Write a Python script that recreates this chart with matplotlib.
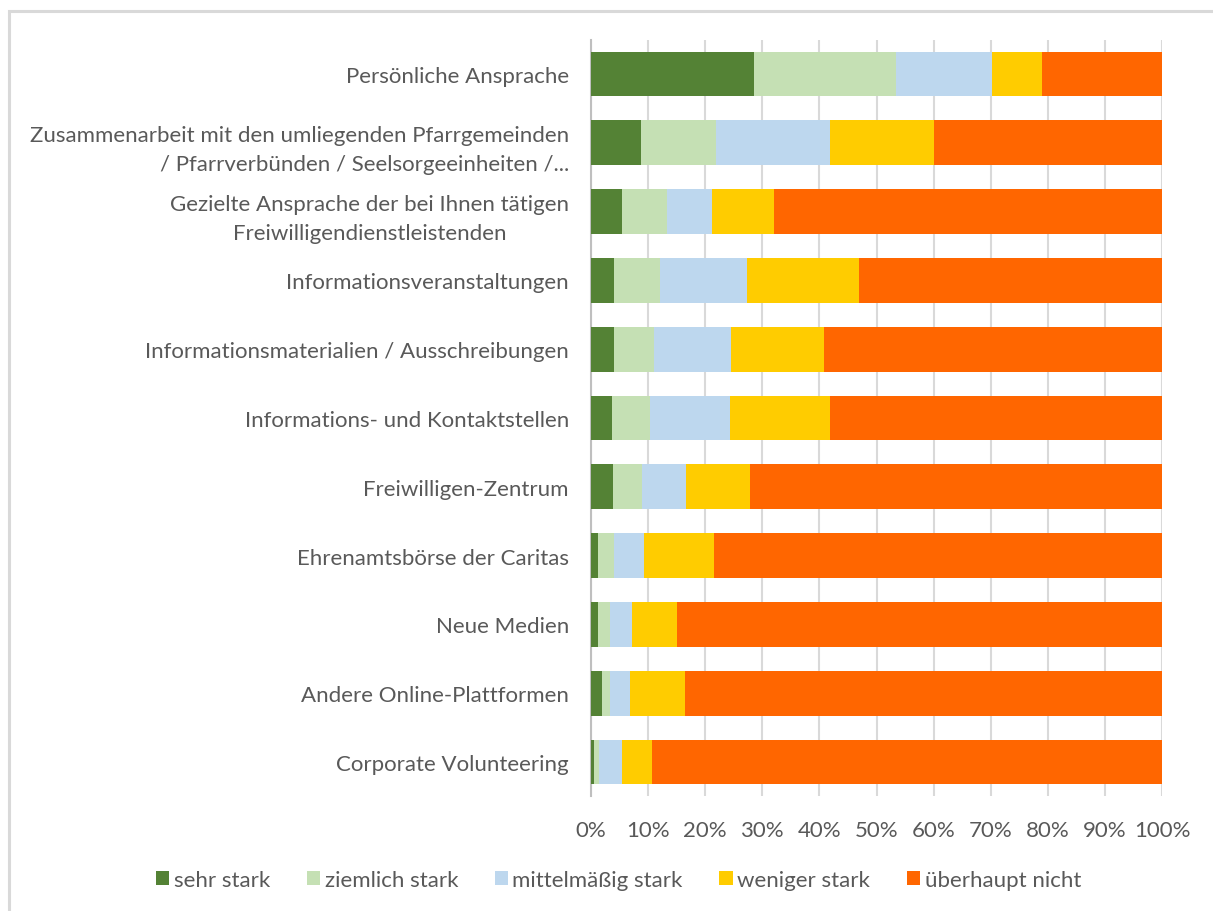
import matplotlib
matplotlib.use("Agg")
import matplotlib.pyplot as plt
import numpy as np
from matplotlib.patches import Rectangle

categories = [
    "Persönliche Ansprache",
    "Zusammenarbeit mit den umliegenden Pfarrgemeinden\n/ Pfarrverbünden / Seelsorgeeinheiten /...",
    "Gezielte Ansprache der bei Ihnen tätigen\nFreiwilligendienstleistenden",
    "Informationsveranstaltungen",
    "Informationsmaterialien / Ausschreibungen",
    "Informations- und Kontaktstellen",
    "Freiwilligen-Zentrum",
    "Ehrenamtsbörse der Caritas",
    "Neue Medien",
    "Andere Online-Plattformen",
    "Corporate Volunteering",
]
series_names = ["sehr stark", "ziemlich stark", "mittelmäßig stark", "weniger stark", "überhaupt nicht"]
sehr_stark = [28.6, 8.8, 5.4, 4.1, 4.1, 3.7, 3.9, 1.2, 1.2, 1.9, 0.5]
ziemlich_stark = [24.9, 13.1, 7.9, 7.9, 6.9, 6.7, 5.0, 2.9, 2.2, 1.5, 0.9]
mittelmaessig_stark = [16.7, 20.0, 7.9, 15.4, 13.6, 13.9, 7.8, 5.1, 3.8, 3.4, 4.0]
weniger_stark = [8.8, 18.2, 10.8, 19.6, 16.2, 17.6, 11.2, 12.4, 7.9, 9.7, 5.2]
ueberhaupt_nicht = [21.0, 39.9, 68.0, 53.0, 59.2, 58.1, 72.1, 78.4, 84.9, 83.5, 89.4]
tick_labels = ["0%", "10%", "20%", "30%", "40%", "50%", "60%", "70%", "80%", "90%", "100%"]

colors = ["#548235", "#C5E0B4", "#BDD7EE", "#FFCC00", "#FF6600"]

plt.rcParams["font.family"] = ["Lato", "DejaVu Sans"]

W, H = 1213, 912
fig = plt.figure(figsize=(W / 100, H / 100), dpi=100)
fig.patch.set_facecolor("white")

# outer chart frame (right and bottom edges lie outside the image)
fig.patches.append(Rectangle((8.5 / W, -0.2), 1.2, 1.2 - 12 / H, transform=fig.transFigure,
                             fill=False, edgecolor="#D9D9D9", linewidth=2.2))

ax = fig.add_axes([591 / W, 1 - 797.4 / H, (1162 - 591) / W, (797.4 - 40.6) / H])

data = [sehr_stark, ziemlich_stark, mittelmaessig_stark, weniger_stark, ueberhaupt_nicht]
y = np.arange(len(categories))
left = np.zeros(len(categories))
for vals, name, c in zip(data, series_names, colors):
    vals = np.array(vals, dtype=float)
    ax.barh(y, vals, left=left, height=0.65, color=c, label=name, zorder=3)
    left += vals

ax.set_xlim(0, 100)
ax.set_ylim(len(categories) - 0.5, -0.5)
ax.set_xticks(np.arange(0, 101, 10))
ax.set_xticklabels(tick_labels)
ax.set_yticks(y)
ax.set_yticklabels(categories)
for i, t in enumerate(ax.get_yticklabels()):
    t.set_multialignment("right" if i == 1 else "center")
    t.set_linespacing(1.6)

ax.xaxis.grid(True, color="#D9D9D9", linewidth=1.5, zorder=0)
ax.set_axisbelow(True)
for s in ["top", "right", "bottom"]:
    ax.spines[s].set_visible(False)
ax.spines["left"].set_color("#BFBFBF")
ax.spines["left"].set_linewidth(1.5)
ax.tick_params(axis="both", length=0, colors="#595959", labelsize=16)
ax.tick_params(axis="y", pad=16)
ax.tick_params(axis="x", pad=17)

handles, labels = ax.get_legend_handles_labels()
fig.legend(handles, labels, loc="center", bbox_to_anchor=(618.5 / W, 1 - 881 / H), ncol=5,
           frameon=False, fontsize=16, handlelength=0.6, handleheight=0.6,
           handletextpad=0.2, columnspacing=1.65, labelcolor="#595959")

fig.savefig("out.png", dpi=100)
